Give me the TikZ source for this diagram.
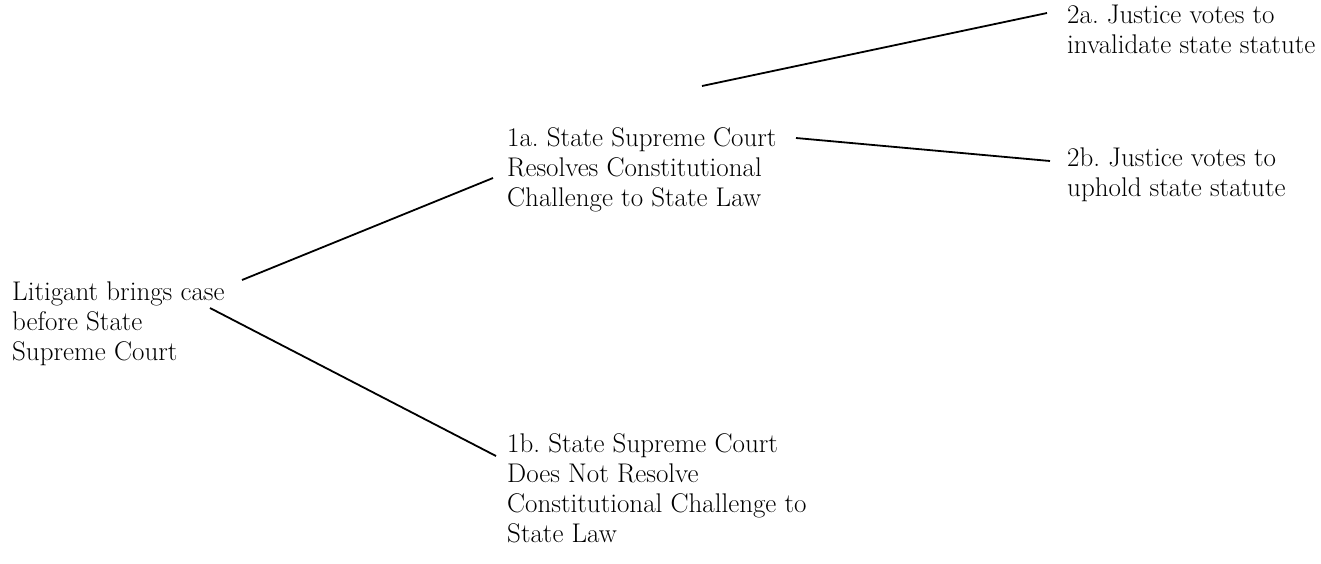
\documentclass[tikz,border=0pt]{standalone}
\begin{document}
\begin{tikzpicture}[x=1pt,y=-1pt,
  lbl/.style={anchor=base west,inner sep=0pt,align=left,font=\fontsize{27}{30}\selectfont},
  conn/.style={line width=1.8pt}]
\useasboundingbox (0,0) rectangle (1321,563);
\node[lbl] (lit) at (12,360) {Litigant brings case\\before State\\Supreme Court};
\node[lbl] (oa) at (507,206) {1a.\ State Supreme Court\\Resolves Constitutional\\Challenge to State Law};
\node[lbl] (ob) at (507,542) {1b.\ State Supreme Court\\Does Not Resolve\\Constitutional Challenge to\\State Law};
\node[lbl] (ta) at (1067,53) {2a.\ Justice votes to\\invalidate state statute};
\node[lbl] (tb) at (1067,196) {2b.\ Justice votes to\\uphold state statute};
\coordinate (la1) at (242,280);
\coordinate (la2) at (493,178);
\coordinate (lb1) at (210,308);
\coordinate (lb2) at (496,456);
\coordinate (a1) at (796,138);
\coordinate (a2) at (1050,161);
\coordinate (f1) at (702,86);
\coordinate (f2) at (1047,13);
\draw[conn] (la1) -- (la2);
\draw[conn] (lb1) -- (lb2);
\draw[conn] (a1) -- (a2);
\draw[conn] (f1) -- (f2);
\end{tikzpicture}
\end{document}
